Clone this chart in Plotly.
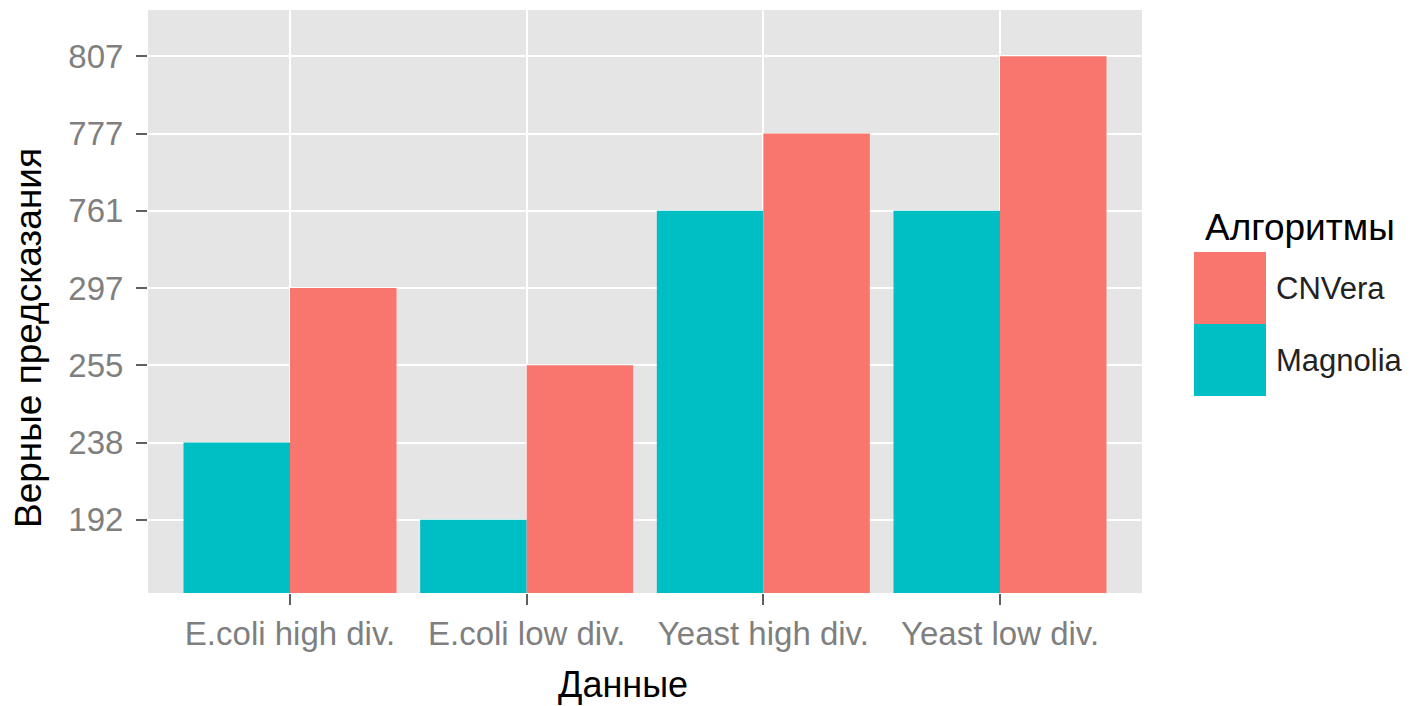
import plotly.graph_objects as go

categories = ["E.coli high div.", "E.coli low div.", "Yeast high div.", "Yeast low div."]
magnolia = [238, 192, 761, 761]
cnvera = [297, 255, 777, 807]
series_names = ["CNVera", "Magnolia"]
colors = {"CNVera": "#F8766D", "Magnolia": "#00BFC4"}

# y axis is discrete in the original (factor levels)
levels = sorted(set(magnolia + cnvera))
level_pos = {v: i + 1 for i, v in enumerate(levels)}
tick_labels = [str(v) for v in levels]

OFF = 8  # page body margin
W, H = 1420 - OFF, 706 - OFF
L, R, T, B = 148 - OFF, 278, 10 - OFF, 113

fig = go.Figure()
fig.add_trace(go.Bar(x=categories, y=[level_pos[v] for v in magnolia], name="Magnolia",
                     marker=dict(color=colors["Magnolia"], line=dict(width=0))))
fig.add_trace(go.Bar(x=categories, y=[level_pos[v] for v in cnvera], name="CNVera",
                     marker=dict(color=colors["CNVera"], line=dict(width=0))))

font_family = "Liberation Sans, Arial, sans-serif"
tick_font = dict(family=font_family, size=33, color="#7F7F7F")

fig.update_layout(
    width=W, height=H,
    margin=dict(l=L, r=R, t=T, b=B, pad=0),
    paper_bgcolor="white", plot_bgcolor="#E5E5E5",
    barmode="group", bargap=0.1, bargroupgap=0,
    showlegend=False,
    xaxis=dict(
        type="category", range=[-0.6, 3.6],
        showgrid=True, gridcolor="white", gridwidth=2,
        ticks="outside", ticklen=11, tickwidth=2, tickcolor="#5F5F5F",
        tickfont=tick_font, showline=False, zeroline=False,
        fixedrange=True,
    ),
    yaxis=dict(
        range=[0.052, 7.6],
        tickmode="array", tickvals=list(range(1, len(levels) + 1)), ticktext=tick_labels,
        showgrid=True, gridcolor="white", gridwidth=2,
        ticks="outside", ticklen=11, tickwidth=2, tickcolor="#5F5F5F",
        tickfont=tick_font, ticklabelstandoff=6, showline=False, zeroline=False,
        fixedrange=True,
    ),
)


def px_x(px):
    return (px - OFF - L) / (W - L - R)


def px_y(py):
    return ((H - B) - (py - OFF)) / (H - T - B)


# axis titles
fig.add_annotation(text="Данные", xref="paper", yref="paper",
                   x=px_x(623), y=px_y(684),
                   showarrow=False, xanchor="center", yanchor="middle",
                   font=dict(family=font_family, size=36, color="black"))
fig.add_annotation(text="Верные предсказания", xref="paper", yref="paper",
                   x=px_x(28), y=px_y(338),
                   textangle=-90, showarrow=False, xanchor="center", yanchor="middle",
                   font=dict(family=font_family, size=37, color="black"))

# legend (drawn manually to match the large ggplot keys)
fig.add_annotation(text="Алгоритмы", xref="paper", yref="paper",
                   x=px_x(1300), y=px_y(228), showarrow=False,
                   xanchor="center", yanchor="middle",
                   font=dict(family=font_family, size=37, color="black"))
key_top = 252
key_h = 72
for i, name in enumerate(series_names):
    y0 = key_top + i * key_h
    fig.add_shape(type="rect", xref="paper", yref="paper",
                  x0=px_x(1194), x1=px_x(1266), y0=px_y(y0 + key_h), y1=px_y(y0),
                  fillcolor=colors[name], line=dict(width=0))
    fig.add_annotation(text=name, xref="paper", yref="paper",
                       x=px_x(1274), y=px_y(y0 + key_h / 2), showarrow=False,
                       xanchor="left", yanchor="middle",
                       font=dict(family=font_family, size=31, color="#222222"))

fig.write_html("out.html")
